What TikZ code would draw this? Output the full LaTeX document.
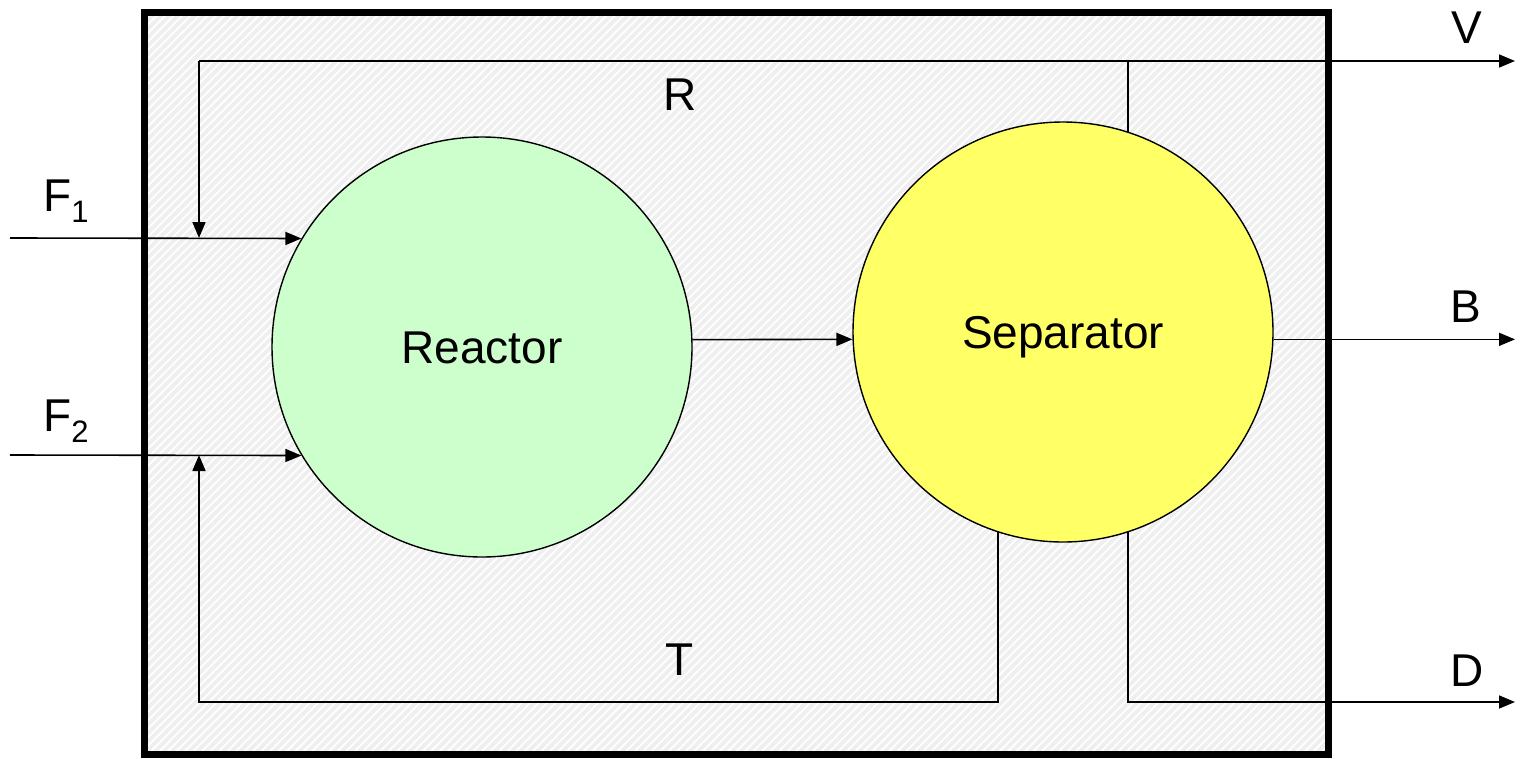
\documentclass[tikz,border=0pt]{standalone}
\usepackage{fontspec}
\setmainfont{Liberation Sans}
\usetikzlibrary{arrows.meta,patterns.meta}
\definecolor{reactgreen}{HTML}{CCFFCC}
\definecolor{sepyellow}{HTML}{FFFF66}
\definecolor{hatchbg}{HTML}{EFEFEF}
\begin{document}
\begin{tikzpicture}[x=1pt,y=-1pt,
  flow/.style={line width=1.6pt, draw=black},
  arr/.style={flow, -{Triangle[length=16pt,width=13pt]}},
  unit/.style={circle, draw=black, line width=1.4pt, minimum size=420pt, inner sep=0pt,
    text height=33pt, text depth=0pt, font=\fontsize{46}{55}\selectfont},
  lbl/.style={anchor=base, inner sep=0pt, font=\fontsize{46}{55}\selectfont}]
\useasboundingbox (0,0) rectangle (1524,758);
\fill[white] (0,0) rectangle (1524,758);
% hatched plant boundary
\fill[hatchbg] (144,12) rectangle (1328,754);
\fill[pattern={Lines[angle=45,distance=6pt,line width=1.8pt]}, pattern color=white] (144,12) rectangle (1328,754);
\draw[line width=7pt] (144,12) rectangle (1328,754);
% units
\node[unit, fill=reactgreen] (reactor) at (482,347) {Reactor};
\node[unit, fill=sepyellow] (sep) at (1063,332) {Separator};
% free ends
\coordinate (f1s) at (10,238);
\coordinate (f2s) at (10,455);
\coordinate (rl) at (199,61);
\coordinate (vend) at (1515,61);
\coordinate (tl) at (199,702);
\coordinate (dend) at (1515,702);
% streams
\draw[arr] (f1s) -- (reactor.149);
\draw[arr] (f2s) -- (reactor.211);
\draw[arr] (reactor.2) -- (sep.182);
\draw[arr] (sep.358) -- (sep.358 -| vend);
\draw[flow] (sep.72) -- (sep.72 |- rl);
\draw[arr] (rl) -- (vend);
\draw[arr] (rl) -- (rl |- f1s);
\draw[arr] (sep.252) |- (tl) -- (tl |- f2s);
\draw[arr] (sep.288) |- (dend);
% labels
\node[lbl] (vlab) at (1467,43) {V};
\node[lbl] (rlab) at (680,110) {R};
\node[lbl, anchor=base west] (f1lab) at (43,211) {F\raisebox{-11pt}{\fontsize{31}{31}\selectfont 1}};
\node[lbl, anchor=base west] (f2lab) at (43,431) {F\raisebox{-11pt}{\fontsize{31}{31}\selectfont 2}};
\node[lbl] (blab) at (1466,322) {B};
\node[lbl] (tlab) at (680,675) {T};
\node[lbl] (dlab) at (1467,686) {D};
\end{tikzpicture}
\end{document}
